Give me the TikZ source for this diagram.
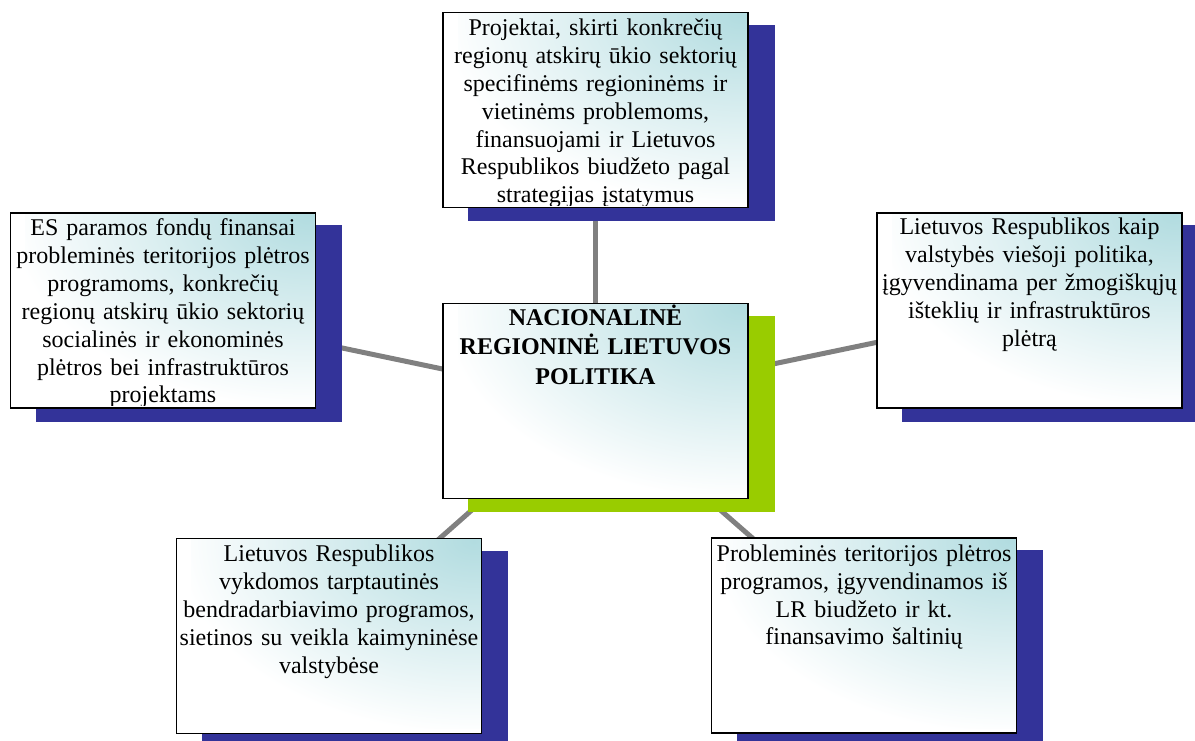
\documentclass[tikz,border=0pt]{standalone}
\usepackage{fontspec}
\setmainfont{Liberation Serif}
\pgfdeclarelayer{lines}
\pgfdeclarelayer{shadows}
\pgfsetlayers{lines,shadows,main}
\definecolor{navy}{HTML}{333399}
\definecolor{lime}{HTML}{99CC00}
\definecolor{tealc}{HTML}{B2DCE0}
\definecolor{connc}{HTML}{808080}
\pgfdeclareradialshading{cornerglow}{\pgfpoint{0bp}{0bp}}{color(0bp)=(tealc); color(10bp)=(tealc!60!white); color(25bp)=(white); color(50bp)=(white)}
\tikzset{
  box/.style={rectangle, minimum width=305pt, minimum height=195pt, inner sep=0pt,
    draw=black, line width=1.6pt, fill=white,
    path picture={\path[shading=cornerglow]
      ([shift={(-290pt,-190pt)}]path picture bounding box.north east) rectangle
      ([shift={(290pt,190pt)}]path picture bounding box.north east);}},
  txt/.style={text width=330pt, align=center, inner sep=0pt, anchor=base,
    font=\fontsize{24}{27.9}\selectfont},
  ctxt/.style={txt, font=\fontsize{24}{29.2}\selectfont\bfseries},
  connector/.style={draw=connc, line width=5pt},
  navyshadow/.style={fill=navy},
  limeshadow/.style={fill=lime}
}
\begin{document}
\begin{tikzpicture}[x=1pt,y=-1pt]
\useasboundingbox (0,0) rectangle (1195,740);
% boxes
\node[box] (t) at (595.5,110) {};
\node[box] (l) at (163,310.5) {};
\node[box] (c) at (595.5,401) {};
\node[box] (r) at (1029.5,310.5) {};
\node[box] (bl) at (329,636) {};
\node[box] (br) at (864,635.5) {};
% texts (clipped inside their boxes)
\begin{scope}
\clip (t.north west) rectangle ([shift={(0,-3)}]t.south east);
\node[txt] (tt) at ([shift={(0,23.7)}]t.north) {Projektai, skirti konkrečių\\regionų atskirų ūkio sektorių\\specifinėms regioninėms ir\\vietinėms problemoms,\\finansuojami ir Lietuvos\\Respublikos biudžeto pagal\\strategijas įstatymus};
\end{scope}
\begin{scope}
\clip (l.north west) rectangle ([shift={(0,-3)}]l.south east);
\node[txt] (lt) at ([shift={(0,23.3)}]l.north) {ES paramos fondų finansai\\probleminės teritorijos plėtros\\programoms, konkrečių\\regionų atskirų ūkio sektorių\\socialinės ir ekonominės\\plėtros bei infrastruktūros\\projektams};
\end{scope}
\node[ctxt] (ct) at ([shift={(0,23)}]c.north) {NACIONALINĖ\\REGIONINĖ LIETUVOS\\POLITIKA};
\node[txt] (rt) at ([shift={(0,22.5)}]r.north) {Lietuvos Respublikos kaip\\valstybės viešoji politika,\\įgyvendinama per žmogiškųjų\\išteklių ir infrastruktūros\\plėtrą};
\node[txt] (blt) at ([shift={(0,24)}]bl.north) {Lietuvos Respublikos\\vykdomos tarptautinės\\bendradarbiavimo programos,\\sietinos su veikla kaimyninėse\\valstybėse};
\node[txt] (brt) at ([shift={(0,24)}]br.north) {Probleminės teritorijos plėtros\\programos, įgyvendinamos iš\\LR biudžeto ir kt.\\finansavimo šaltinių};
% shadows
\begin{pgfonlayer}{shadows}
\foreach \b in {t,l,r,bl,br}
  \path[navyshadow] ([shift={(26,13)}]\b.south west) rectangle ([shift={(26,13)}]\b.north east);
\path[limeshadow] ([shift={(26,13)}]c.south west) rectangle ([shift={(26,13)}]c.north east);
\end{pgfonlayer}
% connectors
\begin{pgfonlayer}{lines}
\draw[connector] (c.center) -- (t.center);
\draw[connector] (c.center) -- (l.center);
\draw[connector] (c.center) -- (r.center);
\draw[connector] (c.center) -- (bl.center);
\draw[connector] (c.center) -- (br.center);
\end{pgfonlayer}
\end{tikzpicture}
\end{document}
